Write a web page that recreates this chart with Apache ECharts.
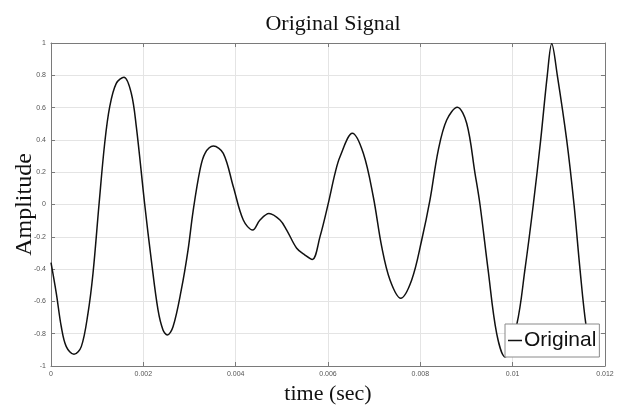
<!DOCTYPE html>
<html>
<head>
<meta charset="utf-8">
<script src="https://cdn.jsdelivr.net/npm/echarts@6/dist/echarts.min.js"></script>
<style>html,body{margin:0;padding:0;background:#fff}#c{width:622px;height:408px}</style>
</head>
<body>
<div id="c"></div>
<script>
// time samples (sec)
var timeSec = [0, 0.000115, 0.000223, 0.000331, 0.000498, 0.000656, 0.000801, 0.000910, 0.001040, 0.001163,
  0.001272, 0.001414, 0.001581, 0.001739, 0.001848, 0.002030, 0.002173, 0.002318, 0.002426, 0.002519,
  0.002643, 0.002822, 0.002968, 0.003076, 0.003227, 0.003336, 0.003516, 0.003732, 0.003949, 0.004165,
  0.004369, 0.004527, 0.004722, 0.004960, 0.005105, 0.005322, 0.005502, 0.005660, 0.005827, 0.006006,
  0.006152, 0.006260, 0.006527, 0.006765, 0.006981, 0.007163, 0.007343, 0.007575, 0.007813, 0.008030,
  0.008209, 0.008389, 0.008571, 0.008801, 0.009004, 0.009184, 0.009292, 0.009466, 0.009654, 0.009834,
  0.010087, 0.010267, 0.010447, 0.010607, 0.010750, 0.010846, 0.010967, 0.011170, 0.011329, 0.011458,
  0.011588, 0.011718];
// amplitude values
var amplitude = [-0.36, -0.55, -0.757, -0.88, -0.928, -0.88, -0.674, -0.426, 0.0, 0.379,
  0.606, 0.75, 0.788, 0.689, 0.482, 0.0, -0.344, -0.653, -0.777, -0.808,
  -0.757, -0.529, -0.282, -0.045, 0.214, 0.317, 0.362, 0.317, 0.11, -0.096,
  -0.158, -0.096, -0.055, -0.096, -0.158, -0.271, -0.313, -0.34, -0.199, 0.007,
  0.193, 0.296, 0.441, 0.317, 0.048, -0.261, -0.467, -0.58, -0.467, -0.22,
  0.028, 0.337, 0.523, 0.602, 0.503, 0.193, 0.0, -0.4, -0.8, -0.944,
  -0.746, -0.4, 0.0, 0.4, 0.8, 0.995, 0.8, 0.4, 0.0, -0.4,
  -0.746, -0.93];
var xTickLabels = ['0', '0.002', '0.004', '0.006', '0.008', '0.01', '0.012'];
var yTickLabels = ['-1', '-0.8', '-0.6', '-0.4', '-0.2', '0', '0.2', '0.4', '0.6', '0.8', '1'];
var seriesName = 'Original';

var points = timeSec.map(function (t, i) { return [t, amplitude[i]]; });
var chart = echarts.init(document.getElementById('c'), null, {renderer: 'canvas'});
var borderColor = '#7a7a7a';
var labelStyle = {fontSize: 7, color: '#555', fontFamily: 'Liberation Sans'};
chart.setOption({
  animation: false,
  backgroundColor: '#fff',
  title: {
    text: 'Original Signal', left: 328, top: 8, textAlign: 'center',
    textStyle: {fontFamily: 'Liberation Serif', fontSize: 22, fontWeight: 'normal', color: '#111'}
  },
  grid: {left: 51, right: 17, top: 43, bottom: 42, containLabel: false, outerBoundsMode: 'none'},
  legend: {
    data: [seriesName], left: 505, top: 324, icon: 'rect', itemWidth: 14, itemHeight: 1.5,
    itemGap: 0, padding: [4, 3, 4, 3], backgroundColor: '#fff', borderColor: '#8a8a8a', borderWidth: 1,
    itemStyle: {color: '#111'},
    textStyle: {fontFamily: 'Liberation Sans', fontSize: 21, color: '#111', lineHeight: 25, padding: [0, 0, 0, -3]}
  },
  xAxis: [{
    type: 'value', min: 0, max: 0.012, interval: 0.002,
    name: 'time (sec)', nameLocation: 'middle', nameGap: 17, nameMoveOverlap: false,
    nameTextStyle: {fontFamily: 'Liberation Serif', fontSize: 22, color: '#111'},
    axisLine: {show: true, onZero: false, lineStyle: {color: borderColor, width: 1}},
    axisTick: {show: true, inside: true, length: 4, lineStyle: {color: borderColor}},
    axisLabel: Object.assign({margin: 5, formatter: function (v) { return xTickLabels[Math.round(v / 0.002)]; }}, labelStyle),
    splitLine: {show: true, lineStyle: {color: '#e4e4e4', width: 1}}
  }, {
    type: 'value', position: 'top', min: 0, max: 0.012, interval: 0.002,
    axisLine: {show: true, onZero: false, lineStyle: {color: borderColor, width: 1}},
    axisTick: {show: true, inside: true, length: 4, lineStyle: {color: borderColor}},
    axisLabel: {show: false}, splitLine: {show: false}
  }],
  yAxis: [{
    type: 'value', min: -1, max: 1, interval: 0.2,
    name: 'Amplitude', nameLocation: 'middle', nameGap: 14, nameRotate: 90, nameMoveOverlap: false,
    nameTextStyle: {fontFamily: 'Liberation Serif', fontSize: 24, color: '#111'},
    axisLine: {show: true, onZero: false, lineStyle: {color: borderColor, width: 1}},
    axisTick: {show: true, inside: true, length: 4, lineStyle: {color: borderColor}},
    axisLabel: Object.assign({margin: 5, formatter: function (v) { return yTickLabels[Math.round((v + 1) / 0.2)]; }}, labelStyle),
    splitLine: {show: true, lineStyle: {color: '#e4e4e4', width: 1}}
  }, {
    type: 'value', position: 'right', min: -1, max: 1, interval: 0.2,
    axisLine: {show: true, onZero: false, lineStyle: {color: borderColor, width: 1}},
    axisTick: {show: true, inside: true, length: 4, lineStyle: {color: borderColor}},
    axisLabel: {show: false}, splitLine: {show: false}
  }],
  series: [{
    name: seriesName, type: 'line', data: points, xAxisIndex: 0, yAxisIndex: 0,
    showSymbol: false, symbol: 'none', smooth: 0.35, clip: true,
    lineStyle: {color: '#111', width: 1.5}, itemStyle: {color: '#111'}
  }]
});
</script>
</body>
</html>
